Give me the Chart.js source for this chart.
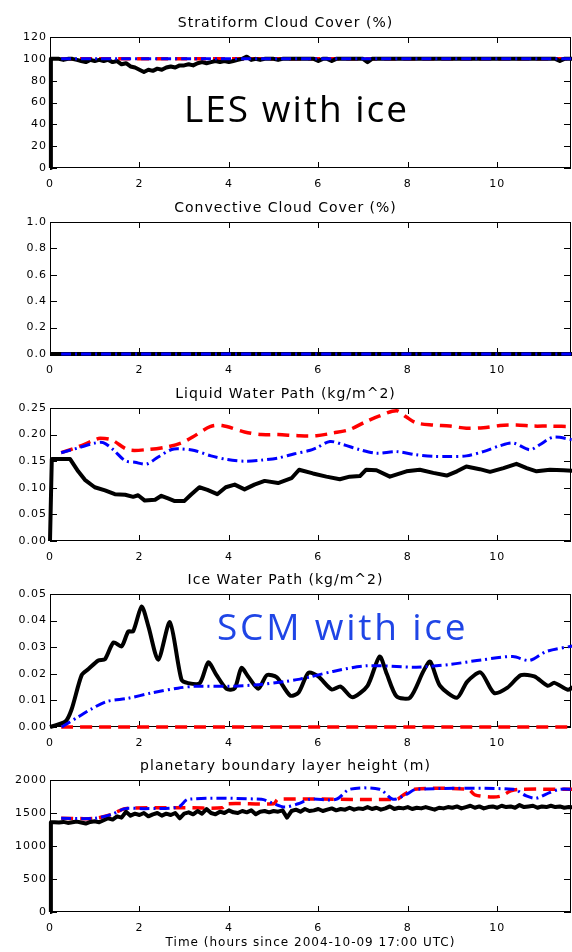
<!DOCTYPE html>
<html>
<head>
<meta charset="utf-8">
<script src="https://cdn.jsdelivr.net/npm/chart.js@4.4.1/dist/chart.umd.min.js"></script>
<style>
  body { margin: 0; background: #fff; }
  #page { position: relative; width: 572px; height: 952px; overflow: hidden; }
  #page canvas { position: absolute; left: 0; }
  .note { position: absolute; font-family: "Open Sans", sans-serif; font-size: 37px; line-height: 37px; white-space: nowrap; }
</style>
</head>
<body>
<div id="page">
  <canvas id="strat"></canvas>
  <canvas id="conv"></canvas>
  <canvas id="lwp"></canvas>
  <canvas id="iwp"></canvas>
  <canvas id="pbl"></canvas>
  <div class="note" style="left:184px;top:89px;color:#000;letter-spacing:2px">LES with ice</div>
  <div class="note" style="left:217px;top:607px;color:#1f45e6;letter-spacing:2.8px">SCM with ice</div>
</div>
<script>
// LES output times (hours since 2004-10-09 17:00 UTC)
const lesHours = [0, 0.02,
  0.1, 0.2, 0.3, 0.4, 0.5, 0.6, 0.7, 0.8, 0.9, 1.0,
  1.1, 1.2, 1.3, 1.4, 1.5, 1.6, 1.7, 1.8, 1.9, 2.0,
  2.1, 2.2, 2.3, 2.4, 2.5, 2.6, 2.7, 2.8, 2.9, 3.0,
  3.1, 3.2, 3.3, 3.4, 3.5, 3.6, 3.7, 3.8, 3.9, 4.0,
  4.1, 4.2, 4.3, 4.4, 4.5, 4.6, 4.7, 4.8, 4.9, 5.0,
  5.1, 5.2, 5.3, 5.4, 5.5, 5.6, 5.7, 5.8, 5.9, 6.0,
  6.1, 6.2, 6.3, 6.4, 6.5, 6.6, 6.7, 6.8, 6.9, 7.0,
  7.1, 7.2, 7.3, 7.4, 7.5, 7.6, 7.7, 7.8, 7.9, 8.0,
  8.1, 8.2, 8.3, 8.4, 8.5, 8.6, 8.7, 8.8, 8.9, 9.0,
  9.1, 9.2, 9.3, 9.4, 9.5, 9.6, 9.7, 9.8, 9.9, 10.0,
  10.1, 10.2, 10.3, 10.4, 10.5, 10.6, 10.7, 10.8, 10.9, 11.0,
  11.1, 11.2, 11.3, 11.4, 11.5, 11.6, 11.7];

// Stratiform cloud cover (%)
const stratLes = [0, 100,
  100, 100, 99, 100, 100, 99, 98, 97, 99, 98,
  99, 98, 99, 97, 98, 95, 96, 93, 92, 90,
  88, 90, 89, 91, 90, 92, 93, 92, 94, 94,
  95, 94, 96, 97, 96, 97, 98, 97, 98, 97,
  98, 99, 100, 102, 99, 100, 99, 100, 100, 100,
  99, 100, 100, 100, 100, 100, 100, 100, 100, 98,
  100, 100, 98, 100, 100, 100, 100, 100, 100, 100,
  97, 100, 100, 100, 100, 100, 100, 100, 100, 100,
  100, 100, 100, 100, 100, 100, 100, 100, 100, 100,
  100, 100, 100, 100, 100, 100, 100, 100, 100, 100,
  100, 100, 100, 100, 100, 100, 100, 100, 100, 100,
  100, 100, 100, 98, 100, 100, 100];
const stratScmHours = [0.25, 11.7];
const stratScm = [100, 100];
const stratScmIce = [100, 100];

// Convective cloud cover (%)
const convLesHours = [0, 11.7];
const convLes = [0, 0];
const convScmHours = [0.25, 11.7];
const convScm = [0, 0];
const convScmIce = [0, 0];

// Liquid water path (kg/m2)
const lwpLesHours = [0, 0.04, 0.45, 0.63, 0.78, 1.0, 1.23, 1.45, 1.68, 1.86,
  1.97, 2.12, 2.35, 2.49, 2.64, 2.79, 3.0, 3.15, 3.34, 3.52,
  3.74, 3.93, 4.13, 4.35, 4.57, 4.8, 5.1, 5.4, 5.57, 5.88,
  6.18, 6.48, 6.7, 6.93, 7.07, 7.3, 7.6, 7.97, 8.27, 8.57,
  8.87, 9.1, 9.31, 9.61, 9.84, 10.14, 10.43, 10.66, 10.88, 11.18,
  11.48, 11.7];
const lwpLes = [0, 0.154, 0.154, 0.131, 0.115, 0.101, 0.095, 0.088, 0.087, 0.083,
  0.086, 0.076, 0.0775, 0.085, 0.080, 0.075, 0.075, 0.087, 0.101, 0.096,
  0.088, 0.101, 0.106, 0.097, 0.106, 0.113, 0.109, 0.118, 0.134, 0.127,
  0.121, 0.116, 0.121, 0.122, 0.134, 0.133, 0.121, 0.131, 0.134, 0.128,
  0.123, 0.131, 0.140, 0.135, 0.130, 0.137, 0.145, 0.137, 0.131, 0.134,
  0.133, 0.132];
const lwpScmHours = [0.25, 0.63, 1.0, 1.12, 1.38, 1.75, 2.2, 2.57, 2.93, 3.2,
  3.58, 3.85, 4.35, 4.72, 5.1, 5.55, 5.96, 6.33, 6.7, 7.07,
  7.37, 7.75, 7.97, 8.19, 8.57, 8.94, 9.31, 9.69, 10.06, 10.43,
  10.8, 11.18, 11.7];
const lwpScm = [0.166, 0.177, 0.190, 0.193, 0.19, 0.1715, 0.172, 0.176, 0.184, 0.196,
  0.215, 0.217, 0.205, 0.2, 0.2, 0.198, 0.198, 0.203, 0.2095, 0.2246,
  0.2352, 0.245, 0.233, 0.222, 0.218, 0.216, 0.212, 0.213, 0.217, 0.218,
  0.216, 0.216, 0.215];
const lwpScmIceHours = [0.25, 0.63, 1.0, 1.19, 1.41, 1.68, 1.9, 2.16, 2.42, 2.72,
  2.93, 3.23, 3.6, 3.97, 4.35, 4.72, 5.1, 5.47, 5.8, 5.96,
  6.26, 6.56, 6.93, 7.3, 7.75, 8.19, 8.57, 8.94, 9.31, 9.69,
  10.06, 10.36, 10.73, 10.95, 11.25, 11.7];
const lwpScmIce = [0.166, 0.175, 0.184, 0.185, 0.172, 0.151, 0.148, 0.1446, 0.158, 0.172,
  0.173, 0.170, 0.160, 0.153, 0.150, 0.152, 0.156, 0.164, 0.170, 0.175,
  0.187, 0.181, 0.1715, 0.165, 0.168, 0.162, 0.159, 0.159, 0.160, 0.168,
  0.179, 0.184, 0.1715, 0.181, 0.195, 0.19];

// Ice water path (kg/m2)
const iwpLesHours = [0, 0.34, 0.48, 0.71, 0.86, 1.08, 1.23, 1.42, 1.6, 1.75,
  1.86, 2.05, 2.2, 2.42, 2.68, 2.94, 3.09, 3.35, 3.54, 3.72,
  3.95, 4.13, 4.28, 4.43, 4.66, 4.85, 5.07, 5.37, 5.56, 5.78,
  6.0, 6.3, 6.5, 6.76, 7.1, 7.37, 7.53, 7.75, 8.05, 8.35,
  8.5, 8.72, 9.1, 9.33, 9.63, 9.93, 10.23, 10.53, 10.83, 11.13,
  11.28, 11.58, 11.7];
const iwpLes = [0, 0.002, 0.0065, 0.0196, 0.0218, 0.025, 0.0255, 0.0318, 0.0303, 0.0359,
  0.036, 0.0453, 0.0378, 0.0253, 0.0394, 0.0178, 0.0165, 0.0165, 0.0243, 0.0196,
  0.0143, 0.0145, 0.0222, 0.019, 0.0144, 0.0195, 0.0187, 0.0118, 0.013, 0.0204,
  0.019, 0.0141, 0.0152, 0.0112, 0.0155, 0.0265, 0.020, 0.0115, 0.011, 0.021,
  0.0246, 0.0155, 0.011, 0.0171, 0.0205, 0.0128, 0.0148, 0.0195, 0.019, 0.0155,
  0.0166, 0.014, 0.015];
const iwpScmHours = [0.25, 11.7];
const iwpScm = [0, 0];
const iwpScmIceHours = [0.26, 0.63, 0.93, 1.27, 1.75, 2.27, 2.86, 3.24, 3.98, 4.66,
  5.25, 5.59, 5.81, 6.33, 7.07, 8.19, 8.93, 9.68, 10.35, 10.72,
  11.1, 11.7];
const iwpScmIce = [0, 0.0038, 0.0068, 0.0096, 0.0108, 0.0128, 0.0146, 0.0153, 0.0153, 0.0159,
  0.0171, 0.018, 0.0188, 0.0209, 0.023, 0.0225, 0.0235, 0.0253, 0.0265, 0.025,
  0.0284, 0.0305];

// Planetary boundary layer height (m)
const pblLes = [0, 1360,
  1360, 1355, 1365, 1350, 1360, 1370, 1355, 1340, 1365, 1375,
  1360, 1390, 1420, 1400, 1450, 1430, 1520, 1460, 1490, 1470,
  1500, 1450, 1480, 1500, 1460, 1490, 1470, 1500, 1420, 1490,
  1510, 1480, 1530, 1490, 1560, 1500, 1480, 1520, 1500, 1540,
  1510, 1500, 1530, 1510, 1540, 1480, 1520, 1530, 1510, 1530,
  1520, 1540, 1430, 1530, 1550, 1520, 1560, 1530, 1540, 1560,
  1530, 1550, 1570, 1540, 1560, 1550, 1580, 1550, 1570, 1560,
  1590, 1560, 1580, 1550, 1570, 1600, 1560, 1580, 1570, 1590,
  1560, 1580, 1570, 1590, 1570, 1550, 1580, 1570, 1590, 1580,
  1600, 1570, 1590, 1610, 1580, 1600, 1570, 1590, 1600, 1580,
  1610, 1590, 1600, 1580, 1620, 1590, 1600, 1610, 1580, 1600,
  1590, 1610, 1590, 1600, 1580, 1590, 1585];
const pblScmHours = [0.25, 1.0, 1.38, 1.68, 2.87, 3.0, 3.85, 3.95, 5.0, 5.1,
  7.75, 7.9, 8.15, 9.35, 9.5, 9.9, 10.1, 10.3, 10.5, 11.7];
const pblScm = [1420, 1420, 1480, 1566, 1580, 1580, 1580, 1640, 1640, 1708,
  1708, 1773, 1859, 1859, 1775, 1742, 1760, 1834, 1859, 1859];
const pblScmIceHours = [0.25, 1.0, 1.38, 1.68, 2.12, 2.87, 3.09, 4.73, 4.95, 5.25,
  5.55, 5.81, 6.4, 6.7, 7.37, 7.67, 7.97, 8.19, 10.36, 10.65,
  10.87, 11.17, 11.4, 11.7];
const pblScmIce = [1420, 1420, 1480, 1566, 1566, 1590, 1708, 1708, 1656, 1590,
  1640, 1708, 1708, 1859, 1859, 1708, 1783, 1859, 1859, 1758,
  1723, 1808, 1859, 1859];

const X_MAX = 11.65;
const TICK_FONT = { family: 'DejaVu Sans', size: 11 };
const TITLE_FONT = { family: 'DejaVu Sans', size: 14, weight: 'normal', lineHeight: '18px' };

const pts = (hours, vals) => hours.map((h, i) => ({ x: h, y: vals[i] }));

// draw order: red under black, blue dash-dot on top
const les = (hours, vals, tension) => ({
  data: pts(hours, vals), borderColor: '#000', borderWidth: 4,
  borderJoinStyle: 'round', tension: tension || 0, order: 1, clip: false
});
const scm = (hours, vals) => ({
  data: pts(hours, vals), borderColor: '#ff0000', borderWidth: 3.5,
  borderDash: [12, 7], tension: 0.3, order: 2, clip: false
});
const scmIce = (hours, vals) => ({
  data: pts(hours, vals), borderColor: '#0000ff', borderWidth: 3,
  borderDash: [10, 4, 2, 4], tension: 0.3, order: 0, clip: false
});

// wide spacing like the IDL vector font
const wideText = {
  id: 'wideText',
  beforeDraw(chart) { chart.ctx.letterSpacing = '1px'; }
};

// IDL style box with inward ticks on all four sides
const idlAxes = {
  id: 'idlAxes',
  beforeDatasetsDraw(chart) {
    const { ctx, chartArea: a, scales } = chart;
    ctx.save();
    ctx.strokeStyle = '#000';
    ctx.lineWidth = 1;
    ctx.strokeRect(a.left + 0.5, a.top + 0.5, a.width - 1, a.height - 1);
    ctx.beginPath();
    scales.x.ticks.forEach((t) => {
      const px = Math.round(scales.x.getPixelForValue(t.value)) + 0.5;
      ctx.moveTo(px, a.bottom); ctx.lineTo(px, a.bottom - 6);
      ctx.moveTo(px, a.top); ctx.lineTo(px, a.top + 6);
    });
    scales.y.ticks.forEach((t) => {
      const py = Math.round(scales.y.getPixelForValue(t.value)) + 0.5;
      ctx.moveTo(a.left, py); ctx.lineTo(a.left + 7, py);
      ctx.moveTo(a.right, py); ctx.lineTo(a.right - 7, py);
    });
    ctx.stroke();
    ctx.restore();
  }
};

const makePanel = (id, cfg) => {
  const canvas = document.getElementById(id);
  const bottomH = cfg.xTitle ? 40 : 24;
  canvas.width = 572;
  canvas.height = 26 + cfg.plotH + bottomH;
  canvas.style.top = (cfg.top - 26) + 'px';

  return new Chart(canvas, {
    type: 'line',
    data: { datasets: cfg.datasets },
    options: {
      responsive: false,
      animation: false,
      devicePixelRatio: 1,
      layout: { padding: { top: 3, right: 1, left: 0, bottom: 0 } },
      elements: { point: { radius: 0 } },
      plugins: {
        legend: { display: false },
        tooltip: { enabled: false },
        title: {
          display: true,
          text: cfg.title,
          color: '#000',
          font: TITLE_FONT,
          padding: { top: 0, bottom: 5 },
        },
      },
      scales: {
        x: {
          type: 'linear',
          min: 0,
          max: X_MAX,
          grid: { display: false, drawTicks: false },
          border: { display: false },
          ticks: {
            stepSize: 2,
            includeBounds: false,
            maxRotation: 0,
            autoSkip: false,
            padding: 10,
            color: '#000',
            font: TICK_FONT,
          },
          title: {
            display: !!cfg.xTitle,
            text: cfg.xTitle || '',
            color: '#000',
            font: { family: 'DejaVu Sans', size: 12 },
            padding: { top: 0, bottom: 2 },
          },
          afterFit: (scale) => { scale.height = bottomH; },
        },
        y: {
          min: cfg.yMin,
          max: cfg.yMax,
          grid: { display: false, drawTicks: false },
          border: { display: false },
          ticks: {
            stepSize: cfg.yStep,
            padding: 3,
            color: '#000',
            font: TICK_FONT,
            callback: (v) => v.toFixed(cfg.decimals),
          },
          afterFit: (scale) => { scale.width = 50; },
        },
      },
    },
    plugins: [wideText, idlAxes],
  });
};

makePanel('strat', {
  title: 'Stratiform Cloud Cover (%)', top: 37, plotH: 131,
  yMin: 0, yMax: 120, yStep: 20, decimals: 0,
  datasets: [
    les(lesHours, stratLes),
    scm(stratScmHours, stratScm),
    scmIce(stratScmHours, stratScmIce),
  ],
});

makePanel('conv', {
  title: 'Convective Cloud Cover (%)', top: 222, plotH: 132,
  yMin: 0, yMax: 1, yStep: 0.2, decimals: 1,
  datasets: [
    les(convLesHours, convLes),
    scm(convScmHours, convScm),
    scmIce(convScmHours, convScmIce),
  ],
});

makePanel('lwp', {
  title: 'Liquid Water Path (kg/m^2)', top: 408, plotH: 133,
  yMin: 0, yMax: 0.25, yStep: 0.05, decimals: 2,
  datasets: [
    les(lwpLesHours, lwpLes),
    scm(lwpScmHours, lwpScm),
    scmIce(lwpScmIceHours, lwpScmIce),
  ],
});

makePanel('iwp', {
  title: 'Ice Water Path (kg/m^2)', top: 594, plotH: 133,
  yMin: 0, yMax: 0.05, yStep: 0.01, decimals: 2,
  datasets: [
    les(iwpLesHours, iwpLes, 0.25),
    scm(iwpScmHours, iwpScm),
    scmIce(iwpScmIceHours, iwpScmIce),
  ],
});

makePanel('pbl', {
  title: 'planetary boundary layer height (m)', top: 780, plotH: 132,
  yMin: 0, yMax: 2000, yStep: 500, decimals: 0,
  xTitle: 'Time (hours since 2004-10-09 17:00 UTC)',
  datasets: [
    les(lesHours, pblLes),
    scm(pblScmHours, pblScm),
    scmIce(pblScmIceHours, pblScmIce),
  ],
});
</script>
</body>
</html>
